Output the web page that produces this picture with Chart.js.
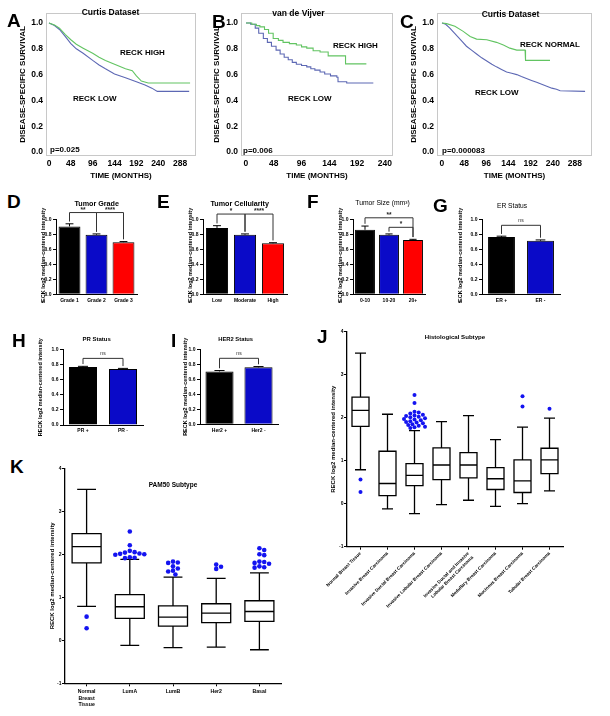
<!DOCTYPE html>
<html>
<head>
<meta charset="utf-8">
<script src="https://cdn.jsdelivr.net/npm/chart.js@4.4.1/dist/chart.umd.min.js"></script>
<style>
  body { margin: 0; width: 610px; height: 716px; background: #fff; position: relative; overflow: hidden;
         font-family: "Liberation Sans", Arial, sans-serif; }
  canvas { position: absolute; }
  .lbl { position: absolute; font-weight: bold; white-space: nowrap; line-height: 1; color: #000; }
</style>
</head>
<body>
<script>
// ---- Kaplan-Meier data (months, survival fraction) ----
const monthTicks288 = [0, 48, 96, 144, 192, 240, 288];
const monthTicks240 = [0, 48, 96, 144, 192, 240];
const survTicks = [0, 0.2, 0.4, 0.6, 0.8, 1.0];

const aHighTime = [0, 12, 23, 36, 48, 60, 75, 96, 110, 124, 144, 168, 183, 192, 203, 218, 310];
const aHighSurv = [1.0, 0.985, 0.96, 0.91, 0.87, 0.835, 0.805, 0.765, 0.735, 0.71, 0.68, 0.645, 0.63, 0.59, 0.55, 0.535, 0.535];
const aLowTime = [0, 12, 23, 36, 48, 60, 75, 96, 110, 124, 144, 168, 192, 211, 226, 238, 308];
const aLowSurv = [1.0, 0.98, 0.95, 0.895, 0.84, 0.80, 0.765, 0.71, 0.675, 0.645, 0.605, 0.575, 0.545, 0.52, 0.495, 0.47, 0.47];

const bHighTime = [0, 10, 18, 24, 32, 39, 47, 56, 64, 75, 87, 96, 105, 116, 128, 142, 172, 208];
const bHighSurv = [1.0, 0.99, 0.98, 0.97, 0.95, 0.92, 0.88, 0.865, 0.85, 0.84, 0.83, 0.815, 0.805, 0.785, 0.775, 0.745, 0.683, 0.683];
const bLowTime = [0, 8, 16, 22, 30, 37, 44, 52, 59, 66, 73, 80, 87, 96, 105, 112, 119, 128, 136, 146, 157, 159, 174, 220];
const bLowSurv = [1.0, 0.99, 0.96, 0.92, 0.88, 0.85, 0.82, 0.79, 0.76, 0.735, 0.715, 0.695, 0.68, 0.67, 0.66, 0.645, 0.635, 0.62, 0.605, 0.59, 0.58, 0.545, 0.535, 0.535];

const cNormalTime = [0, 10, 28, 46, 61, 75, 97, 118, 133, 147, 162, 180, 181, 234];
const cNormalSurv = [1.0, 0.995, 0.974, 0.935, 0.896, 0.875, 0.87, 0.85, 0.83, 0.805, 0.79, 0.79, 0.71, 0.71];
const cLowTime = [0, 8, 17, 26, 35, 44, 53, 64, 75, 86, 97, 108, 118, 129, 140, 151, 162, 172, 183, 194, 205, 216, 227, 238, 248, 256, 310];
const cLowSurv = [1.0, 0.99, 0.96, 0.925, 0.89, 0.855, 0.82, 0.79, 0.76, 0.73, 0.705, 0.68, 0.66, 0.64, 0.62, 0.61, 0.60, 0.585, 0.57, 0.555, 0.54, 0.525, 0.51, 0.495, 0.486, 0.475, 0.47];

// ---- bar panels (mean, SEM, significance brackets [from, to, label, level]) ----
const gradeLabels = ['Grade 1', 'Grade 2', 'Grade 3'];
const gradeMeans = [0.905, 0.795, 0.695];
const gradeSem = [0.035, 0.01, 0.008];
const gradeSig = [[0, 1, '**', 1.09], [1, 2, '****', 1.09]];

const cellLabels = ['Low', 'Moderate', 'High'];
const cellMeans = [0.885, 0.795, 0.68];
const cellSem = [0.03, 0.01, 0.008];
const cellSig = [[0, 1, '*', 1.07], [1, 2, '****', 1.07]];

const sizeLabels = ['0-10', '10-20', '20+'];
const sizeMeans = [0.86, 0.795, 0.725];
const sizeSem = [0.05, 0.01, 0.008];
const sizeSig = [[0, 2, '**', 1.02], [1, 2, '*', 0.893]];

const erLabels = ['ER +', 'ER -'];
const erMeans = [0.765, 0.715];
const erSem = [0.01, 0.01];
const erSig = [[0, 1, 'ns', 0.92]];

const prLabels = ['PR +', 'PR -'];
const prMeans = [0.765, 0.74];
const prSem = [0.01, 0.008];
const prSig = [[0, 1, 'ns', 0.88]];

const her2Labels = ['Her2 +', 'Her2 -'];
const her2Means = [0.705, 0.76];
const her2Sem = [0.012, 0.01];
const her2Sig = [[0, 1, 'ns', 0.88]];

const barColors = ['#000000', '#0a0ac8', '#ff0000'];

// ---- box plots ----
const boxTicks = [-1, 0, 1, 2, 3, 4];

const histLabels = ['Normal Breast Tissue', 'Invasive Breast Carcinoma', 'Invasive Ductal Breast Carcinoma',
  'Invasive Lobular Breast Carcinoma', ['Invasive Ductal and Invasive', 'Lobular Breast Carcinoma'],
  'Medullary Breast Carcinoma', 'Mucinous Breast Carcinoma', 'Tubular Breast Carcinoma'];
const histMin = [0.79, -0.12, -0.23, -0.02, 0.08, -0.06, 0.0, 0.30];
const histQ1 = [1.80, 0.19, 0.42, 0.56, 0.60, 0.33, 0.26, 0.70];
const histMed = [2.17, 0.47, 0.66, 0.90, 0.90, 0.58, 0.53, 1.02];
const histQ3 = [2.48, 1.22, 0.93, 1.30, 1.19, 0.84, 1.02, 1.29];
const histMax = [3.50, 2.08, 1.70, 1.91, 2.05, 1.49, 1.78, 1.99];
const histOut = [[0.56, 0.27], [],
  [2.53, 2.34, 2.14, 2.12, 2.10, 2.07, 2.05, 2.04, 2.02, 2.01, 1.99, 1.97, 1.96, 1.94, 1.92, 1.90, 1.89, 1.87, 1.85, 1.83, 1.81, 1.79, 1.78, 1.76],
  [], [], [], [2.50, 2.26], [2.21]];

const pamLabels = [['Normal', 'Breast', 'Tissue'], 'LumA', 'LumB', 'Her2', 'Basal'];
const pamMin = [0.79, -0.12, -0.17, -0.16, -0.22];
const pamQ1 = [1.80, 0.51, 0.33, 0.41, 0.44];
const pamMed = [2.18, 0.78, 0.54, 0.63, 0.67];
const pamQ3 = [2.48, 1.06, 0.80, 0.85, 0.92];
const pamMax = [3.51, 1.88, 1.47, 1.44, 1.57];
const pamOut = [[0.55, 0.28],
  [2.53, 2.21, 2.08, 2.05, 2.04, 2.02, 2.01, 2.00, 1.99, 1.93, 1.92, 1.91],
  [1.83, 1.81, 1.80, 1.72, 1.67, 1.62, 1.60, 1.53],
  [1.76, 1.71, 1.66],
  [2.14, 2.10, 2.00, 1.98, 1.83, 1.82, 1.80, 1.78, 1.72, 1.70, 1.69]];

Chart.defaults.font.family = '"Liberation Sans", Arial, sans-serif';
Chart.defaults.color = '#000';

// helpers
function makeCanvas(b) {
  const c = document.createElement('canvas');
  c.width = b.w; c.height = b.h;
  c.style.left = b.x + 'px'; c.style.top = b.y + 'px';
  document.body.appendChild(c);
  return c;
}

// size the axes so the plot area lands exactly on `area`
function fitTo(box, area, padL, padB) {
  return {
    padding: { left: padL, top: area.t - box.y, right: box.x + box.w - area.r, bottom: padB },
    yWidth: area.l - box.x - padL,
    xHeight: box.y + box.h - padB - area.b
  };
}

function txt(s, x, base, size, o = {}) {
  const d = document.createElement('div');
  d.className = 'lbl';
  d.textContent = s;
  d.style.fontSize = size + 'px';
  d.style.left = x + 'px';
  d.style.top = (base - 0.846 * size) + 'px';
  if (o.center) d.style.transform = 'translateX(-50%)';
  if (o.normal) d.style.fontWeight = 'normal';
  document.body.appendChild(d);
}

const framePlugin = {
  id: 'frame',
  afterDraw(chart) {
    const { ctx, chartArea: a } = chart;
    ctx.save();
    ctx.strokeStyle = '#c8c8c8';
    ctx.lineWidth = 1;
    ctx.strokeRect(a.left + 0.5, a.top + 0.5, a.width - 1, a.height - 1);
    ctx.restore();
  }
};

// error bars (upper SEM) and significance brackets
const barExtras = {
  id: 'barExtras',
  afterDatasetsDraw(chart, args, o) {
    const { ctx, scales: { y } } = chart;
    const bars = chart.getDatasetMeta(0).data;
    ctx.save();
    ctx.strokeStyle = '#000';
    ctx.lineWidth = 1;
    o.means.forEach((m, i) => {
      const cx = bars[i].x, half = bars[i].width * 0.18;
      const y0 = y.getPixelForValue(m), y1 = y.getPixelForValue(m + o.sem[i]);
      ctx.beginPath();
      ctx.moveTo(cx, y0); ctx.lineTo(cx, y1);
      ctx.moveTo(cx - half, y1); ctx.lineTo(cx + half, y1);
      ctx.stroke();
    });
    o.sig.forEach(([i, j, label, level]) => {
      const x1 = bars[i].x, x2 = bars[j].x, yl = y.getPixelForValue(level);
      ctx.strokeStyle = '#333';
      ctx.beginPath();
      ctx.moveTo(x1, y.getPixelForValue(o.means[i] + o.sem[i] + 0.03));
      ctx.lineTo(x1, yl); ctx.lineTo(x2, yl);
      ctx.lineTo(x2, y.getPixelForValue(o.means[j] + o.sem[j] + 0.03));
      ctx.stroke();
      ctx.fillStyle = '#222';
      ctx.textAlign = 'center';
      ctx.textBaseline = 'alphabetic';
      ctx.font = label === 'ns' ? '5px "Liberation Sans"' : 'bold 6.5px "Liberation Sans"';
      ctx.fillText(label, (x1 + x2) / 2, label === 'ns' ? yl - 3 : yl - 1);
    });
    ctx.restore();
  }
};

const boxPlot = {
  id: 'boxPlot',
  beforeDatasetsDraw(chart, args, o) {
    const { ctx, scales: { x, y } } = chart;
    const py = v => y.getPixelForValue(v);
    ctx.save();
    ctx.strokeStyle = '#000';
    ctx.lineWidth = 1.3;
    o.med.forEach((m, i) => {
      const cx = x.getPixelForValue(i), hw = o.boxWidth / 2, cw = hw * 0.65;
      ctx.beginPath();
      ctx.rect(cx - hw, py(o.q3[i]), 2 * hw, py(o.q1[i]) - py(o.q3[i]));
      ctx.moveTo(cx - hw, py(m)); ctx.lineTo(cx + hw, py(m));
      ctx.moveTo(cx, py(o.q3[i])); ctx.lineTo(cx, py(o.max[i]));
      ctx.moveTo(cx - cw, py(o.max[i])); ctx.lineTo(cx + cw, py(o.max[i]));
      ctx.moveTo(cx, py(o.q1[i])); ctx.lineTo(cx, py(o.min[i]));
      ctx.moveTo(cx - cw, py(o.min[i])); ctx.lineTo(cx + cw, py(o.min[i]));
      ctx.stroke();
    });
    ctx.restore();
  }
};

// spread overlapping outlier dots sideways (deterministic)
function swarm(vals, unitPx, catPx, r) {
  const placed = [];
  return vals.map(v => {
    for (let k = 0; k < 60; k++) {
      const off = (k % 2 ? 1 : -1) * Math.ceil(k / 2) * r * 1.05;
      const ok = placed.every(p => Math.hypot(p.dx - off, (p.v - v) * unitPx) >= 2 * r * 0.9);
      if (ok) { placed.push({ dx: off, v }); return off / catPx; }
    }
    return 0;
  });
}

function kmChart(box, area, padL, padB, xMin, xMax, xTicks, series) {
  const f = fitTo(box, area, padL, padB);
  return new Chart(makeCanvas(box), {
    type: 'line',
    data: {
      datasets: series.map(s => ({
        data: s.time.map((t, i) => ({ x: t, y: s.surv[i] })),
        borderColor: s.color, borderWidth: 1.1, pointRadius: 0, stepped: s.stepped, fill: false
      }))
    },
    options: {
      responsive: false, animation: false, devicePixelRatio: 1,
      layout: { padding: f.padding },
      plugins: { legend: { display: false }, tooltip: { enabled: false } },
      scales: {
        x: {
          type: 'linear', min: xMin, max: xMax,
          afterBuildTicks: s => { s.ticks = xTicks.map(v => ({ value: v })); },
          afterFit: s => { s.height = f.xHeight; },
          grid: { display: false, drawTicks: false }, border: { display: false },
          ticks: { padding: 3, maxRotation: 0, font: { size: 8.5, weight: 'bold' } },
          title: { display: true, text: 'TIME (MONTHS)', padding: 0, font: { size: 8, weight: 'bold' } }
        },
        y: {
          min: -0.031, max: 1.0775,
          afterBuildTicks: s => { s.ticks = survTicks.map(v => ({ value: v })); },
          afterFit: s => { s.width = f.yWidth; },
          grid: { display: false, drawTicks: false }, border: { display: false },
          ticks: { padding: 3, font: { size: 8.5, weight: 'bold' }, callback: v => v.toFixed(1) },
          title: { display: true, text: 'DISEASE-SPECIFIC SURVIVAL', padding: 0, font: { size: 8, weight: 'bold' } }
        }
      }
    },
    plugins: [framePlugin]
  });
}

function barChart(box, area, padL, labels, means, sem, sig, barPct) {
  const f = fitTo(box, area, padL, 0);
  return new Chart(makeCanvas(box), {
    type: 'bar',
    data: {
      labels: labels,
      datasets: [{
        data: means, backgroundColor: barColors.slice(0, labels.length),
        borderColor: '#000', borderWidth: 1, barPercentage: barPct, categoryPercentage: 1
      }]
    },
    options: {
      responsive: false, animation: false, devicePixelRatio: 1,
      layout: { padding: f.padding },
      plugins: { legend: { display: false }, tooltip: { enabled: false },
                 barExtras: { means: means, sem: sem, sig: sig } },
      scales: {
        x: {
          afterFit: s => { s.height = f.xHeight; },
          grid: { display: false, drawTicks: false }, border: { display: true, color: '#000', width: 1 },
          ticks: { padding: 3, maxRotation: 0, font: { size: 5, weight: 'bold' } }
        },
        y: {
          min: 0, max: 1,
          afterBuildTicks: s => { s.ticks = survTicks.map(v => ({ value: v })); },
          afterFit: s => { s.width = f.yWidth; },
          grid: { display: true, drawOnChartArea: false, drawTicks: true, tickLength: 3, color: '#000' },
          border: { display: true, color: '#000', width: 1 },
          ticks: { padding: 1.5, font: { size: 5, weight: 'bold' }, callback: v => v.toFixed(1) },
          title: { display: true, text: 'RECK log2 median-centered intensity', padding: 0,
                   font: { size: 5.5, weight: 'bold' } }
        }
      }
    },
    plugins: [barExtras]
  });
}

function boxChart(box, area, padL, padB, labels, st, out, o) {
  const f = fitTo(box, area, padL, padB);
  const pts = [];
  out.forEach((vals, i) => {
    swarm(vals, 43, o.catPx, o.dotR).forEach((off, k) => pts.push({ x: i + off, y: vals[k] }));
  });
  return new Chart(makeCanvas(box), {
    type: 'scatter',
    data: { datasets: [{ data: pts, pointRadius: o.dotR, pointBackgroundColor: '#1414f0', pointBorderWidth: 0 }] },
    options: {
      responsive: false, animation: false, devicePixelRatio: 1,
      layout: { padding: f.padding },
      plugins: { legend: { display: false }, tooltip: { enabled: false },
                 boxPlot: { min: st.min, q1: st.q1, med: st.med, q3: st.q3, max: st.max, boxWidth: o.boxWidth } },
      scales: {
        x: {
          type: 'linear', min: -0.5, max: labels.length - 0.5,
          afterBuildTicks: s => { s.ticks = labels.map((_, i) => ({ value: i })); },
          afterFit: s => { s.height = f.xHeight; },
          grid: { display: true, drawOnChartArea: false, drawTicks: true, tickLength: 3, color: '#000' },
          border: { display: true, color: '#000', width: 1.3 },
          ticks: { autoSkip: false, padding: o.xPad, minRotation: o.rot, maxRotation: o.rot,
                   font: { size: o.xFont, weight: 'bold', lineHeight: 1.25 }, callback: v => labels[v] }
        },
        y: {
          min: -1, max: 4,
          afterBuildTicks: s => { s.ticks = boxTicks.map(v => ({ value: v })); },
          afterFit: s => { s.width = f.yWidth; },
          grid: { display: true, drawOnChartArea: false, drawTicks: true, tickLength: 3, color: '#000' },
          border: { display: true, color: '#000', width: 1.3 },
          ticks: { padding: 0.5, font: { size: 5, weight: 'bold' } },
          title: { display: true, text: 'RECK log2 median-centered intensity', padding: 0,
                   font: { size: 6, weight: 'bold' } }
        }
      }
    },
    plugins: [boxPlot]
  });
}

const GREEN = '#62c462', BLUE = '#5d68b4';

// ---- A, B, C: survival curves ----
kmChart({ x: 14, y: 0, w: 190, h: 186 }, { l: 46, r: 196, t: 13, b: 156 }, 4.2, 5.2, -6.6, 323, monthTicks288, [
  { time: aHighTime, surv: aHighSurv, color: GREEN, stepped: false },
  { time: aLowTime, surv: aLowSurv, color: BLUE, stepped: false }
]);
kmChart({ x: 208, y: 0, w: 196, h: 186 }, { l: 241, r: 393, t: 13, b: 156 }, 3.9, 5.2, -8.6, 254, monthTicks240, [
  { time: bHighTime, surv: bHighSurv, color: GREEN, stepped: true },
  { time: bLowTime, surv: bLowSurv, color: BLUE, stepped: true }
]);
kmChart({ x: 404, y: 0, w: 206, h: 186 }, { l: 437, r: 592, t: 13, b: 156 }, 4.5, 5.2, -10.8, 325, monthTicks288, [
  { time: cNormalTime, surv: cNormalSurv, color: GREEN, stepped: false },
  { time: cLowTime, surv: cLowSurv, color: BLUE, stepped: false }
]);

// ---- D-I: bar panels ----
barChart({ x: 36, y: 196, w: 118, h: 107 }, { l: 56, r: 137, t: 219.3, b: 294.3 }, 3.7, gradeLabels, gradeMeans, gradeSem, gradeSig, 0.81);
barChart({ x: 183, y: 196, w: 110, h: 107 }, { l: 203, r: 287, t: 219.3, b: 294.3 }, 3.7, cellLabels, cellMeans, cellSem, cellSig, 0.79);
barChart({ x: 333, y: 196, w: 100, h: 107 }, { l: 353, r: 425, t: 219.3, b: 294.3 }, 3.7, sizeLabels, sizeMeans, sizeSem, sizeSig, 0.83);
barChart({ x: 450, y: 196, w: 118, h: 107 }, { l: 482, r: 560, t: 219.3, b: 294.3 }, 6.7, erLabels, erMeans, erSem, erSig, 0.69);
barChart({ x: 20, y: 330, w: 130, h: 116 }, { l: 63, r: 143, t: 349.3, b: 425 }, 16.7, prLabels, prMeans, prSem, prSig, 0.7);
barChart({ x: 165, y: 330, w: 125, h: 116 }, { l: 200, r: 278, t: 349.3, b: 424.3 }, 16.7, her2Labels, her2Means, her2Sem, her2Sig, 0.72);

// ---- J, K: box plots ----
boxChart({ x: 300, y: 326, w: 275, h: 300 }, { l: 347, r: 563, t: 331.7, b: 546.7 }, 29.4, 0, histLabels,
  { min: histMin, q1: histQ1, med: histMed, q3: histQ3, max: histMax }, histOut,
  { boxWidth: 17, dotR: 2, catPx: 27, rot: 45, xFont: 4.6, xPad: 1 });
boxChart({ x: 30, y: 458, w: 265, h: 258 }, { l: 65, r: 281, t: 468.3, b: 683.3 }, 18.4, 0, pamLabels,
  { min: pamMin, q1: pamQ1, med: pamMed, q3: pamQ3, max: pamMax }, pamOut,
  { boxWidth: 29, dotR: 2.3, catPx: 43.2, rot: 0, xFont: 5.2, xPad: 2.5 });

// ---- text: panel letters, titles, annotations ----
[['A', 7, 27], ['B', 212, 28], ['C', 400, 28], ['D', 7, 208], ['E', 157, 208], ['F', 307, 208],
 ['G', 433, 212], ['H', 12, 347], ['I', 171, 347], ['J', 317, 343], ['K', 10, 473]]
  .forEach(([s, x, b]) => txt(s, x, b, 19));

txt('Curtis Dataset', 110.5, 15, 8.5, { center: true });
txt('van de Vijver', 298.5, 16, 8.5, { center: true });
txt('Curtis Dataset', 510.5, 17, 8.5, { center: true });
txt('RECK HIGH', 120, 56, 8);
txt('RECK LOW', 73, 102, 8);
txt('p=0.025', 50, 153, 8);
txt('RECK HIGH', 333, 49, 8);
txt('RECK LOW', 288, 102, 8);
txt('p=0.006', 243, 154, 8);
txt('RECK NORMAL', 520, 48, 8);
txt('RECK LOW', 475, 96, 8);
txt('p=0.000083', 442, 154, 8);

txt('Tumor Grade', 96.7, 206, 7.2, { center: true });
txt('Tumor Cellularity', 239.7, 206, 7.2, { center: true });
txt('Tumor Size (mm³)', 382.5, 206, 6.8, { center: true, normal: true });
txt('ER Status', 512, 209, 6.7, { center: true, normal: true });
txt('PR Status', 96.7, 341, 6, { center: true });
txt('HER2 Status', 235.7, 342, 5.8, { center: true });
txt('Histological Subtype', 455, 339, 6.1, { center: true });
txt('PAM50 Subtype', 173, 487, 6.5, { center: true });
</script>
</body>
</html>
